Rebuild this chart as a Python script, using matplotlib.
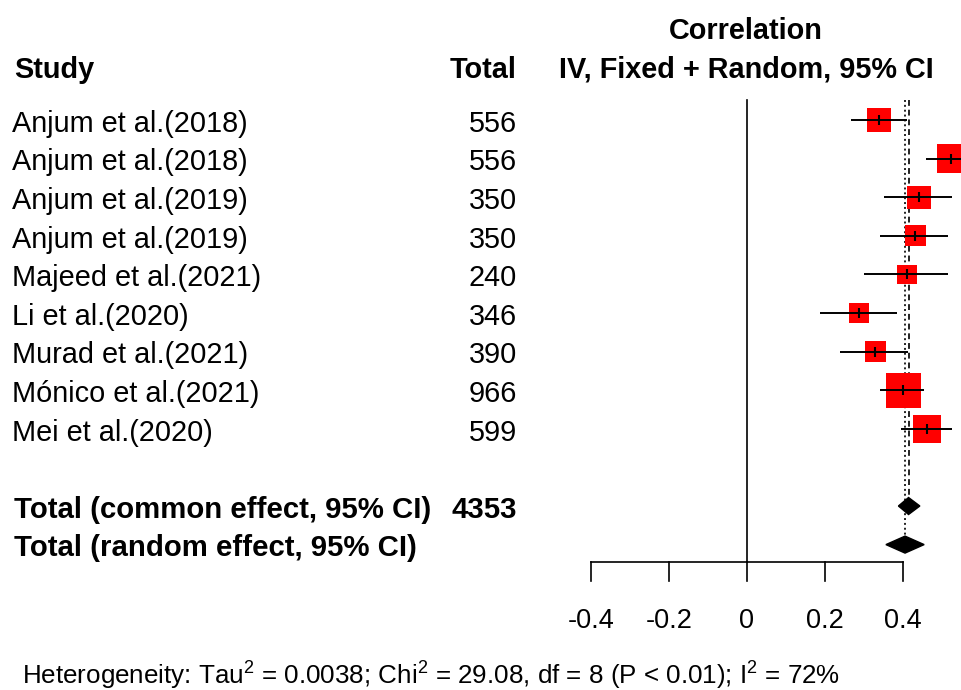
import matplotlib
matplotlib.use('Agg')
import matplotlib.pyplot as plt

plt.rcParams['font.family'] = ['Liberation Sans', 'DejaVu Sans']
plt.rcParams['mathtext.fontset'] = 'custom'
plt.rcParams['mathtext.rm'] = 'Liberation Sans'
plt.rcParams['mathtext.default'] = 'regular'

# data
studies = ['Anjum et al.(2018)', 'Anjum et al.(2018)', 'Anjum et al.(2019)',
           'Anjum et al.(2019)', 'Majeed et al.(2021)', 'Li et al.(2020)',
           'Murad et al.(2021)', 'Mónico et al.(2021)', 'Mei et al.(2020)']
totals = [556, 556, 350, 350, 240, 346, 390, 966, 599]
cor = [0.340, 0.524, 0.442, 0.432, 0.411, 0.288, 0.330, 0.401, 0.462]
lower = [0.267, 0.460, 0.353, 0.342, 0.302, 0.188, 0.239, 0.342, 0.395]
upper = [0.412, 0.588, 0.526, 0.515, 0.515, 0.386, 0.414, 0.455, 0.526]
weights = [10.6, 14.6, 9.7, 8.0, 6.5, 6.5, 8.0, 21.7, 14.6]

common = (0.415, 0.389, 0.444)   # estimate, lower, upper
random_ = (0.406, 0.357, 0.455)
total_n = 4353
ticks = [-0.4, -0.2, 0, 0.2, 0.4]
tick_labels = ['-0.4', '-0.2', '0', '0.2', '0.4']

fig = plt.figure(figsize=(9.61, 6.90), dpi=100)
ax = fig.add_axes([0, 0, 1, 1])
# one x unit = 390 px, zero at 746.7 px ; one row = 38.6 px, first row at 120 px
ax.set_xlim(-746.7 / 390, (961 - 746.7) / 390)
ax.set_ylim(570 / 38.6, -120 / 38.6)
ax.axis('off')

tr = ax.get_yaxis_transform()  # x in axes fraction, y in rows
fx = lambda px: px / 961.0
fs = 20.8
fsb = 21.2

n = len(studies)
rows = list(range(n))
row_common = n + 1
row_random = n + 2
axis_row = 11.45
dy = 0.1  # text sits a little below the row centre

# headers
ax.text(fx(746), -2.3, 'Correlation', transform=tr, ha='center', va='center', fontsize=fs, fontweight='bold')
ax.text(fx(746), -1.3, 'IV, Fixed + Random, 95% CI', transform=tr, ha='center', va='center', fontsize=fs, fontweight='bold')
ax.text(fx(14), -1.3, 'Study', transform=tr, ha='left', va='center', fontsize=fs, fontweight='bold')
ax.text(fx(517), -1.3, 'Total', transform=tr, ha='right', va='center', fontsize=fs, fontweight='bold')

for i in rows:
    ax.text(fx(12), i + dy, studies[i], transform=tr, ha='left', va='center', fontsize=fs)
    ax.text(fx(517), i + dy, str(totals[i]), transform=tr, ha='right', va='center', fontsize=fs)

ax.text(fx(14), row_common + dy, 'Total (common effect, 95% CI)', transform=tr, ha='left', va='center', fontsize=fsb, fontweight='bold')
ax.text(fx(517), row_common + dy, str(total_n), transform=tr, ha='right', va='center', fontsize=fsb, fontweight='bold')
ax.text(fx(14), row_random + dy, 'Total (random effect, 95% CI)', transform=tr, ha='left', va='center', fontsize=fsb, fontweight='bold')

# reference lines
ax.plot([0, 0], [-0.52, axis_row], color='black', lw=1.2)
ax.plot([common[0]] * 2, [-0.52, row_common], color='#222222', lw=1.4, ls=(0, (3, 2)))
ax.plot([random_[0]] * 2, [-0.52, row_random], color='#222222', lw=1.4, ls=(0, (1, 1.5)))

# study boxes and CIs
sizes = [w * 29 for w in weights]
ax.scatter(cor, rows, s=sizes, marker='s', color='red', edgecolor='none', zorder=3)
ax.hlines(rows, lower, upper, color='black', lw=1.4, zorder=4)
ax.plot(cor, rows, ls='none', marker='|', color='black', ms=7, mew=1.5, zorder=5)

# diamonds
for (est, lo, hi), r in [(common, row_common), (random_, row_random)]:
    ax.fill([lo, est, hi, est], [r, r - 0.22, r, r + 0.22], color='black', zorder=4)

# x axis
ax.plot([ticks[0], ticks[-1]], [axis_row, axis_row], color='black', lw=1.2)
for t, lab in zip(ticks, tick_labels):
    ax.plot([t, t], [axis_row, 11.94], color='black', lw=1.2)
    ax.text(t, 12.97, lab, ha='center', va='center', fontsize=19.5)

ax.text(fx(22), 14.4,
        'Heterogeneity: Tau$^2$ = 0.0038; Chi$^2$ = 29.08, df = 8 (P < 0.01); I$^2$ = 72%',
        transform=tr, ha='left', va='center', fontsize=18.7)

fig.savefig('out.png', dpi=100)
